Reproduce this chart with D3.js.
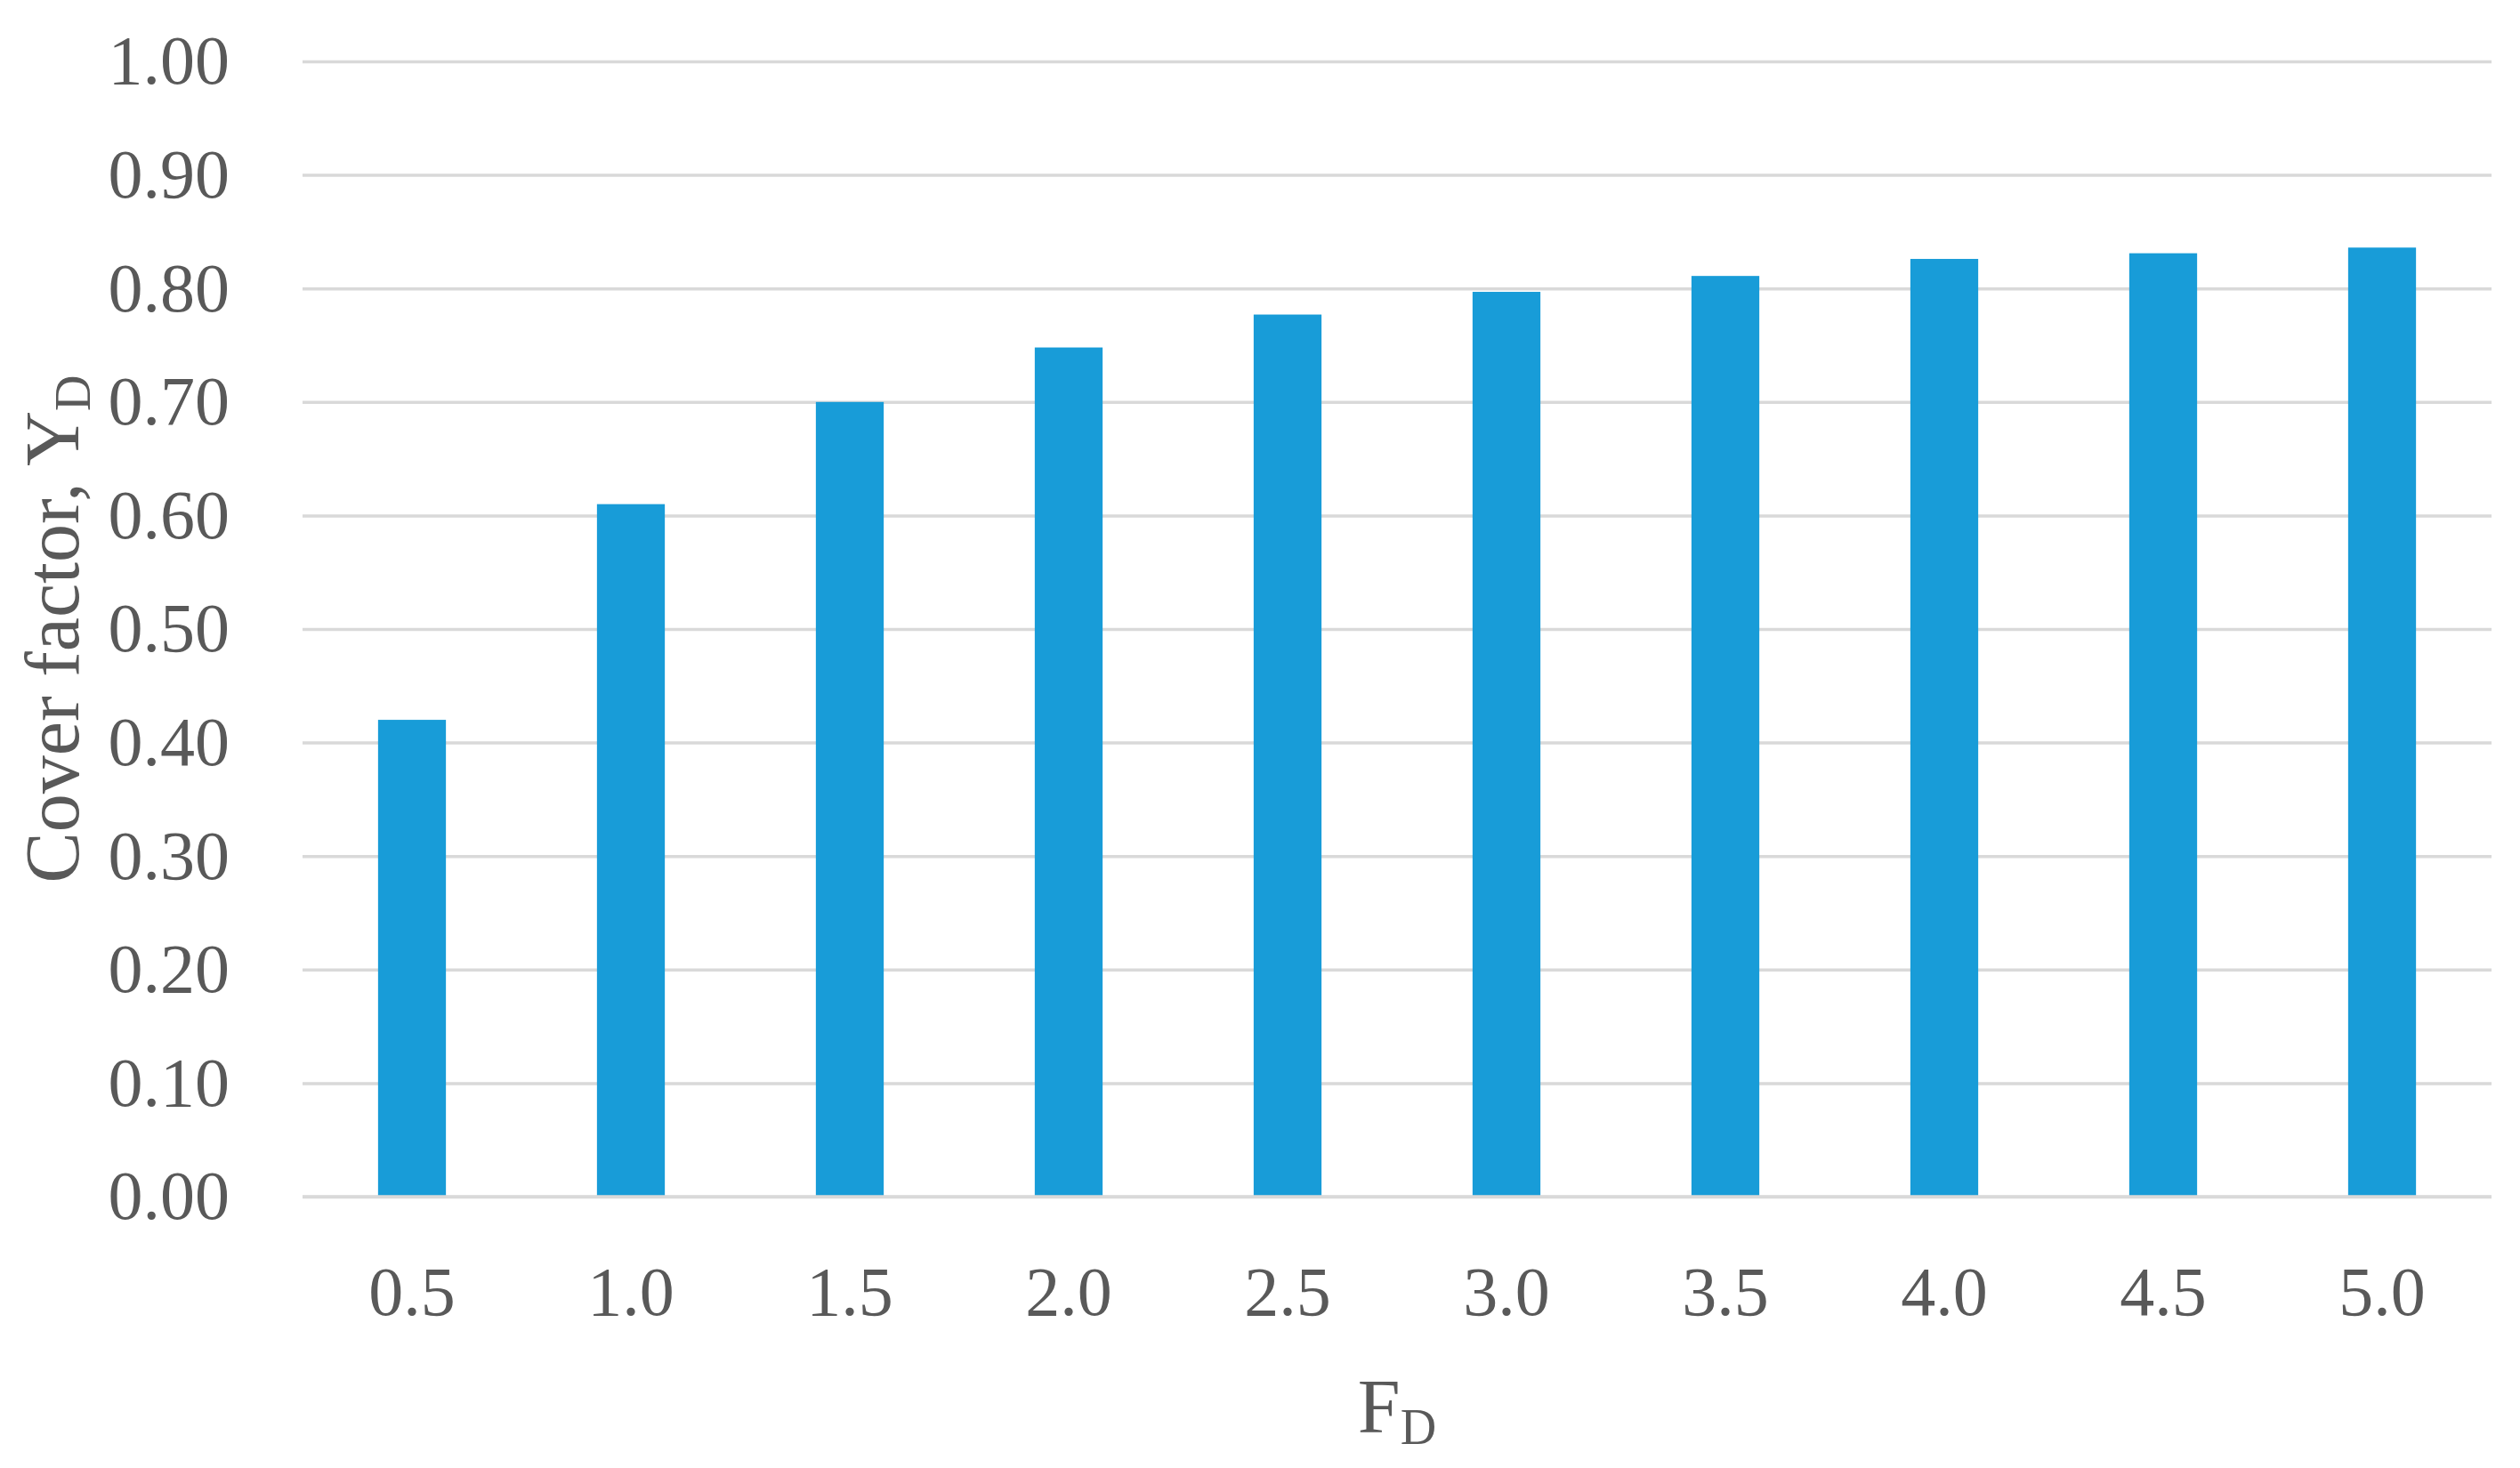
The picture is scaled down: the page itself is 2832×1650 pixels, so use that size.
<!DOCTYPE html>
<html>
<head>
<meta charset="utf-8">
<script src="https://cdn.jsdelivr.net/npm/d3@7"></script>
<style>
  html, body { margin: 0; padding: 0; background: #ffffff; }
  svg { display: block; }
  text { font-family: "Liberation Serif", "DejaVu Serif", serif; fill: #595959; }
</style>
</head>
<body>
<svg id="chart" width="2832" height="1650"></svg>
<script>
// ---- data ----
const categories = ["0.5", "1.0", "1.5", "2.0", "2.5", "3.0", "3.5", "4.0", "4.5", "5.0"];
const coverFactor = [0.42, 0.61, 0.70, 0.748, 0.777, 0.797, 0.811, 0.826, 0.831, 0.836];
const yTickValues = [0, 0.1, 0.2, 0.3, 0.4, 0.5, 0.6, 0.7, 0.8, 0.9, 1.0];
const yTitle = "Cover factor, Y";
const yTitleSub = "D";
const xTitle = "F";
const xTitleSub = "D";

// ---- layout ----
const W = 2832, H = 1650;
const plot = { left: 340, right: 2800, top: 69, bottom: 1345 };
const barColor = "#189cd8";
const gridColor = "#d9d9d9";

const svg = d3.select("#chart");

const x = d3.scaleBand()
  .domain(categories)
  .range([plot.left, plot.right])
  .paddingInner(0.69)
  .paddingOuter(0.345);

const y = d3.scaleLinear()
  .domain([0, 1])
  .range([plot.bottom, plot.top]);

// gridlines + y tick labels
const yAxis = d3.axisLeft(y)
  .tickValues(yTickValues)
  .tickFormat(d3.format(".2f"))
  .tickSize(-(plot.right - plot.left))
  .tickPadding(82);

const gy = svg.append("g")
  .attr("transform", `translate(${plot.left},0)`)
  .call(yAxis);
gy.select(".domain").remove();
gy.selectAll(".tick line").attr("stroke", gridColor).attr("stroke-width", 3.5);
gy.selectAll(".tick text")
  .attr("font-size", 78)
  .attr("fill", "#595959")
  .style("font-family", "Liberation Serif, DejaVu Serif, serif");

// bars
svg.append("g")
  .selectAll("rect")
  .data(categories.map((c, i) => ({ c, v: coverFactor[i] })))
  .join("rect")
  .attr("x", d => x(d.c))
  .attr("width", x.bandwidth())
  .attr("y", d => y(d.v))
  .attr("height", d => y(0) - y(d.v))
  .attr("fill", barColor);

// x axis labels
const xAxis = d3.axisBottom(x).tickSize(0).tickPadding(78);
const gx = svg.append("g")
  .attr("transform", `translate(0,${plot.bottom})`)
  .call(xAxis);
gx.select(".domain").remove();
gx.selectAll(".tick text")
  .attr("font-size", 78)
  .attr("fill", "#595959")
  .style("font-family", "Liberation Serif, DejaVu Serif, serif");

// axis line at zero (same gray as gridlines)
svg.append("line")
  .attr("x1", plot.left).attr("x2", plot.right)
  .attr("y1", y(0)).attr("y2", y(0))
  .attr("stroke", gridColor).attr("stroke-width", 3.5);

// x title
const xt = svg.append("text")
  .attr("x", (plot.left + plot.right) / 2)
  .attr("y", 1610)
  .attr("text-anchor", "middle")
  .attr("font-size", 86);
xt.append("tspan").text(xTitle);
xt.append("tspan").attr("font-size", 56).attr("dy", 13).text(xTitleSub);

// y title
const yt = svg.append("text")
  .attr("transform", `translate(88,${(plot.top + plot.bottom) / 2}) rotate(-90)`)
  .attr("text-anchor", "middle")
  .attr("font-size", 86);
yt.append("tspan").text(yTitle);
yt.append("tspan").attr("font-size", 56).attr("dy", 13).text(yTitleSub);
</script>
</body>
</html>
